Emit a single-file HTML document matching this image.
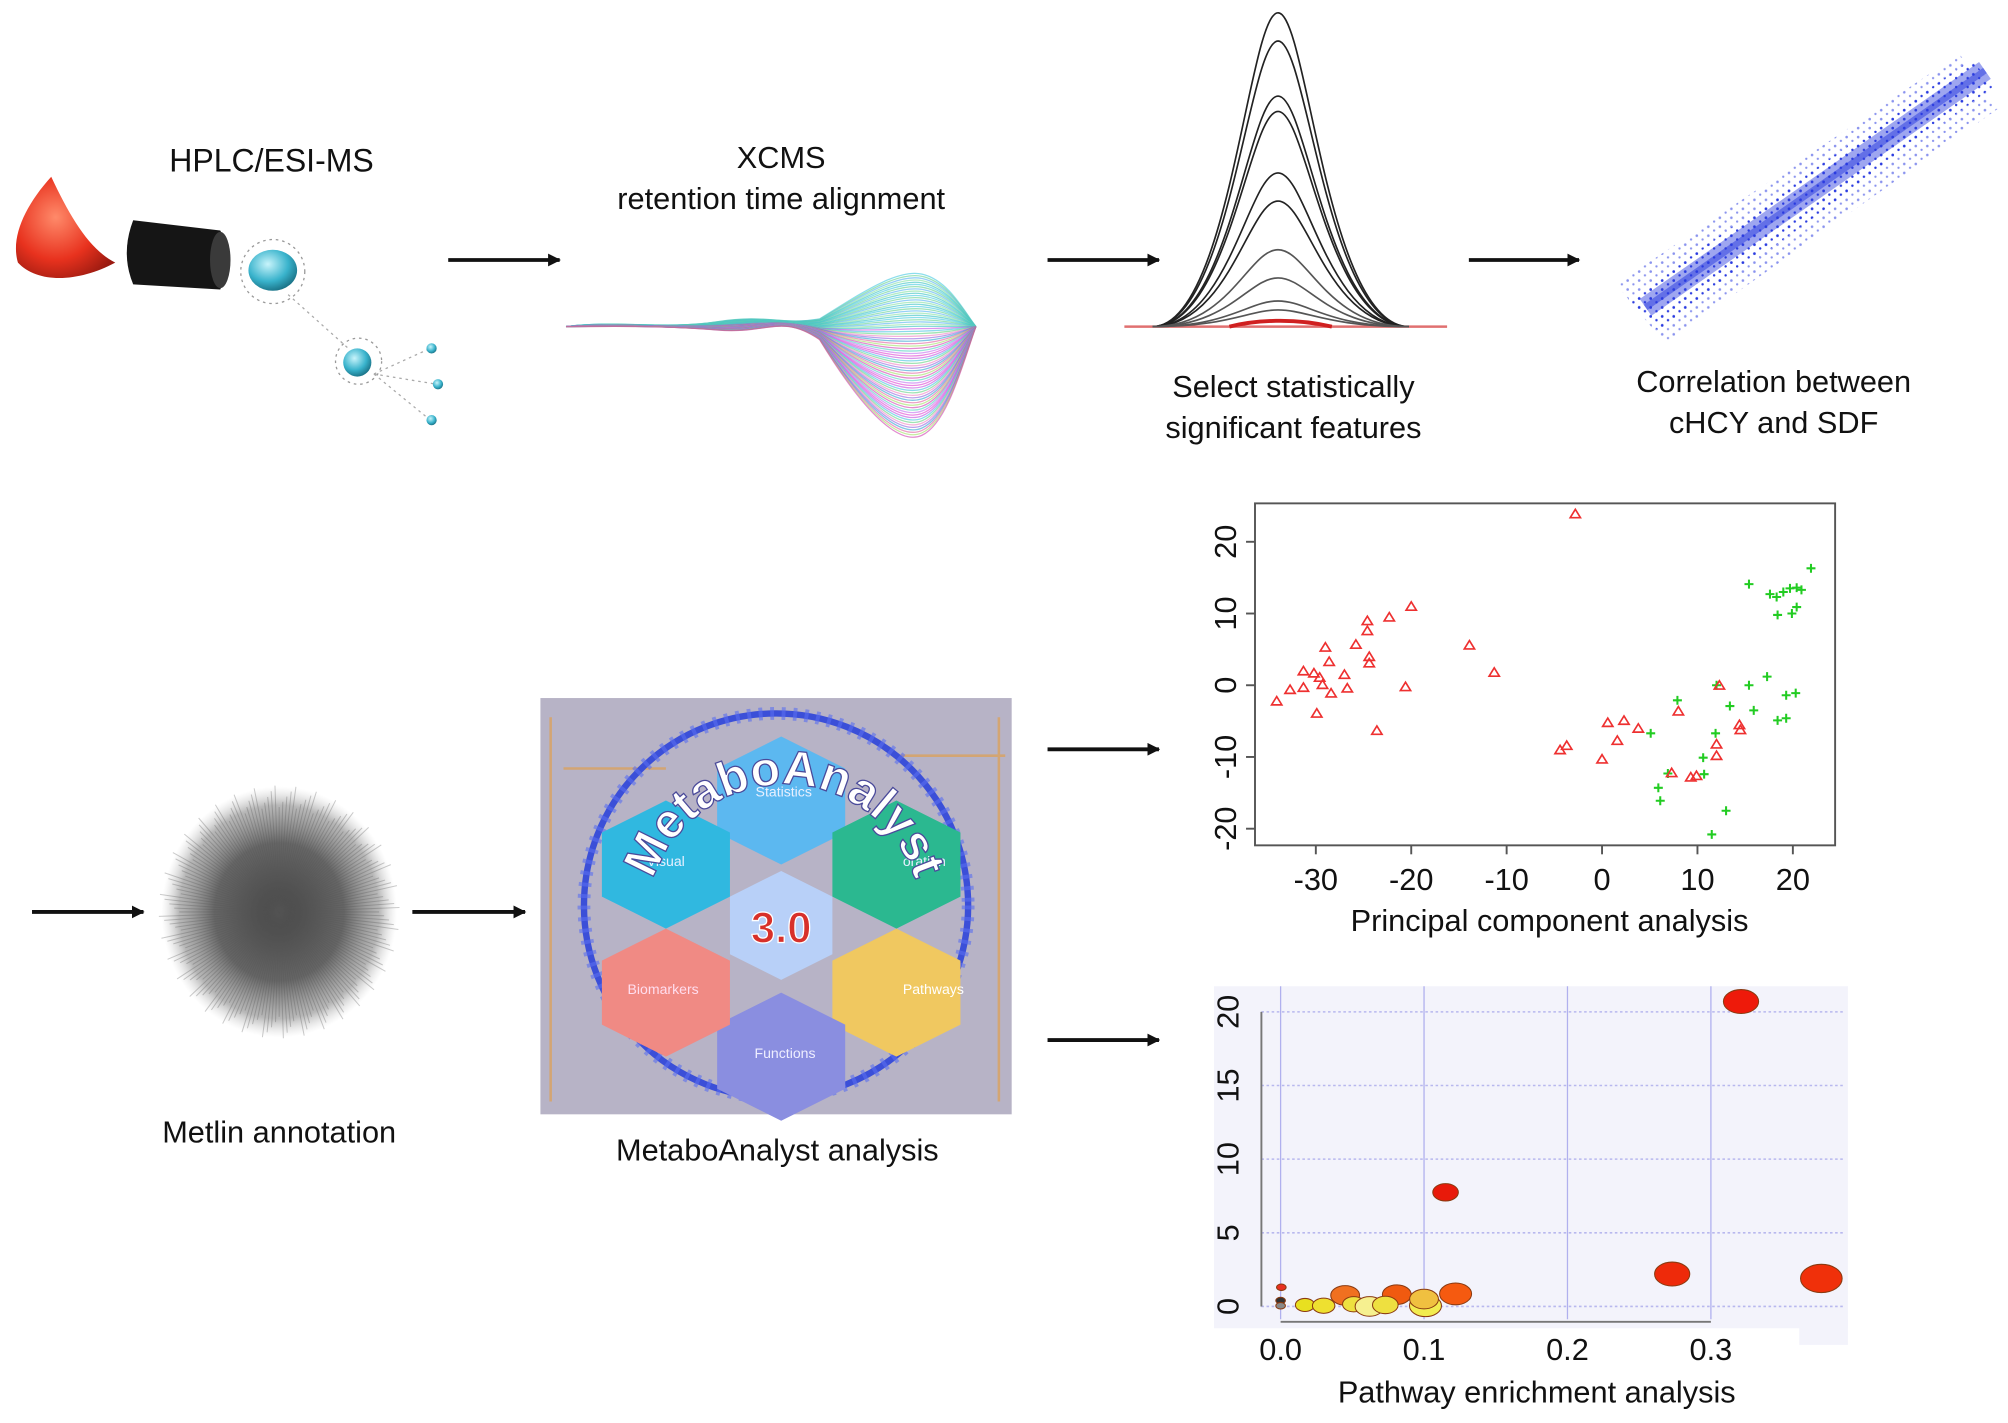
<!DOCTYPE html>
<html><head><meta charset="utf-8"><style>
html,body{margin:0;padding:0;background:#fff;}
svg{display:block;}
text{font-family:"Liberation Sans",Arial,sans-serif;fill:#111;}
</style></head><body>
<svg id="root" width="2008" height="1423" viewBox="0 0 1568 1111" preserveAspectRatio="none" xmlns="http://www.w3.org/2000/svg">
<defs>
<marker id="ah" markerWidth="10" markerHeight="10" refX="9" refY="5" orient="auto" markerUnits="userSpaceOnUse"><path d="M0,0 L10,5 L0,10 Z" fill="#111"/></marker>
<radialGradient id="cone" cx="0.4" cy="0.4" r="0.7"><stop offset="0" stop-color="#ff8a6a"/><stop offset="0.6" stop-color="#e8321e"/><stop offset="1" stop-color="#9a1a10"/></radialGradient>
<radialGradient id="cyan" cx="0.4" cy="0.35" r="0.7"><stop offset="0" stop-color="#c8f4fb"/><stop offset="0.6" stop-color="#39b3cc"/><stop offset="1" stop-color="#176c80"/></radialGradient>
<radialGradient id="fuzz" cx="0.5" cy="0.5" r="0.5"><stop offset="0" stop-color="#444"/><stop offset="0.55" stop-color="#666"/><stop offset="0.85" stop-color="#999" stop-opacity="0.7"/><stop offset="1" stop-color="#ccc" stop-opacity="0"/></radialGradient>
<pattern id="dots" width="9" height="7" patternUnits="userSpaceOnUse"><circle cx="2" cy="2" r="1" fill="#2a3be0"/><circle cx="6.5" cy="5" r="0.9" fill="#2a3be0"/></pattern>
</defs>

<!-- Top row -->
<text x="212" y="134" font-size="25" text-anchor="middle">HPLC/ESI-MS</text>
<g>
<path d="M40,138 C20,160 8,185 14,205 C30,222 62,220 90,205 C70,195 55,170 40,138 Z" fill="url(#cone)"/>
<path d="M104,172 L172,180 Q184,200 172,226 L104,222 Q94,198 104,172 Z" fill="#151515"/>
<ellipse cx="172" cy="203" rx="8" ry="22" fill="#3a3a3a"/>
<circle cx="213" cy="212" r="25" fill="none" stroke="#999" stroke-dasharray="2 3"/>
<ellipse cx="213" cy="211" rx="19" ry="16" fill="url(#cyan)"/>
<line x1="225" y1="230" x2="272" y2="272" stroke="#aaa" stroke-dasharray="2 3"/>
<circle cx="280" cy="282" r="18" fill="none" stroke="#999" stroke-dasharray="2 3"/>
<circle cx="279" cy="283" r="11" fill="url(#cyan)"/>
<line x1="292" y1="292" x2="336" y2="272" stroke="#aaa" stroke-dasharray="2 3"/>
<line x1="292" y1="292" x2="341" y2="300" stroke="#aaa" stroke-dasharray="2 3"/>
<line x1="292" y1="292" x2="336" y2="328" stroke="#aaa" stroke-dasharray="2 3"/>
<circle cx="337" cy="272" r="4" fill="url(#cyan)"/><circle cx="342" cy="300" r="4" fill="url(#cyan)"/><circle cx="337" cy="328" r="4" fill="url(#cyan)"/>
</g>
<line x1="350" y1="203" x2="437" y2="203" stroke="#111" stroke-width="3" marker-end="url(#ah)"/>

<text x="610" y="131" font-size="24" text-anchor="middle">XCMS</text>
<text x="610" y="163" font-size="24" text-anchor="middle">retention time alignment</text>
<g id="xcms"></g>
<line x1="818" y1="203" x2="905" y2="203" stroke="#111" stroke-width="3" marker-end="url(#ah)"/>

<g id="peaks">
<line x1="878" y1="255" x2="1130" y2="255" stroke="#e07070" stroke-width="2"/>
</g>
<text x="1010" y="310" font-size="24" text-anchor="middle">Select statistically</text>
<text x="1010" y="342" font-size="24" text-anchor="middle">significant features</text>
<line x1="1147" y1="203" x2="1233" y2="203" stroke="#111" stroke-width="3" marker-end="url(#ah)"/>

<g>
<polygon points="1262,222 1300,268 1560,85 1530,42" fill="url(#dots)" opacity="0.55"/>
<polygon points="1270,235 1295,258 1556,68 1540,46" fill="url(#dots)"/>
<line x1="1285" y1="240" x2="1550" y2="55" stroke="#2a3be0" stroke-width="16" opacity="0.45"/>
<line x1="1285" y1="240" x2="1550" y2="55" stroke="#2a3be0" stroke-width="5" opacity="0.5"/>
</g>
<text x="1385" y="306" font-size="24" text-anchor="middle">Correlation between</text>
<text x="1385" y="338" font-size="24" text-anchor="middle">cHCY and SDF</text>

<!-- Lower left -->
<line x1="25" y1="712" x2="112" y2="712" stroke="#111" stroke-width="3" marker-end="url(#ah)"/>
<g id="fuzzball">
<ellipse cx="218" cy="712" rx="92" ry="98" fill="url(#fuzz)"/>
</g>
<text x="218" y="892" font-size="24" text-anchor="middle">Metlin annotation</text>
<line x1="322" y1="712" x2="410" y2="712" stroke="#111" stroke-width="3" marker-end="url(#ah)"/>

<g>
<rect x="422" y="545" width="368" height="325" fill="#b7b3c6"/>
<path d="M430,560 L430,860 M780,560 L780,860 M440,600 L520,600 M700,590 L785,590" stroke="#e0a050" stroke-width="2" opacity="0.7"/>
<circle cx="606" cy="707" r="150" fill="none" stroke="#3b4fd8" stroke-width="5"/>
<circle cx="606" cy="707" r="150" fill="none" stroke="#5a6ef0" stroke-width="10" stroke-dasharray="3 6" opacity="0.6"/>
<g stroke="none">
<polygon points="610,575 660,600 660,650 610,675 560,650 560,600" fill="#5cb8f0"/>
<polygon points="700,625 750,650 750,700 700,725 650,700 650,650" fill="#2bb890"/>
<polygon points="700,725 750,750 750,800 700,825 650,800 650,750" fill="#f0c860"/>
<polygon points="610,775 660,800 660,850 610,875 560,850 560,800" fill="#8a8ee0"/>
<polygon points="520,725 570,750 570,800 520,825 470,800 470,750" fill="#f08a84"/>
<polygon points="520,625 570,650 570,700 520,725 470,700 470,650" fill="#30b8e0"/>
<polygon points="610,680 650,700 650,745 610,765 570,745 570,700" fill="#b8d0f8"/>
</g>
<text x="612" y="622" font-size="11" text-anchor="middle" style="fill:#e8f0ff">Statistics</text>
<text x="505" y="676" font-size="11" style="fill:#e8f0ff">Visual</text>
<text x="705" y="676" font-size="11" style="fill:#e8f0ff">oration</text>
<text x="490" y="776" font-size="11" style="fill:#fde">Biomarkers</text>
<text x="705" y="776" font-size="11" style="fill:#fff">Pathways</text>
<text x="613" y="826" font-size="11" text-anchor="middle" style="fill:#eef">Functions</text>
<path id="arcp" d="M505,720 A105,105 0 0 1 720,720" fill="none"/>
<text font-size="38" font-weight="bold" style="fill:#fff;stroke:#4a4a9a;stroke-width:1"><textPath href="#arcp" startOffset="50%" text-anchor="middle">MetaboAnalyst</textPath></text>
<text x="610" y="736" font-size="34" font-weight="bold" text-anchor="middle" style="fill:#d8302a;stroke:#fff;stroke-width:1">3.0</text>
</g>
<text x="607" y="906" font-size="24" text-anchor="middle">MetaboAnalyst analysis</text>
<line x1="818" y1="585" x2="905" y2="585" stroke="#111" stroke-width="3" marker-end="url(#ah)"/>
<line x1="818" y1="812" x2="905" y2="812" stroke="#111" stroke-width="3" marker-end="url(#ah)"/>

<!-- PCA chart -->
<g id="pca">
<rect x="980" y="393" width="453" height="267" fill="#fff" stroke="#555" stroke-width="1.5"/>
</g>
<text x="1210" y="727" font-size="24" text-anchor="middle">Principal component analysis</text>

<!-- Pathway chart -->
<g id="path">
<rect x="948" y="770" width="495" height="267" fill="#f3f3fb"/>
<rect x="1405" y="1030" width="38" height="20" fill="#f3f3fb"/>
</g>
<text x="1200" y="1095" font-size="24" text-anchor="middle">Pathway enrichment analysis</text>
</svg>

<script>
// ===== PCA data =====
const pcaRedX = [-2.8,-34.1,-32.7,-31.3,-31.3,-30.2,-29.6,-29.3,-29.9,-29,-28.6,-28.4,-27,-26.7,-25.8,-24.6,-24.6,-24.4,-24.4,-23.6,-22.3,-20,-20.6,-13.9,-11.3,-4.4,-3.7,0,0.6,1.6,2.3,3.8,8,7.3,9.3,9.9,12,12,12.3,14.4,14.5];
const pcaRedY = [23.9,-2.2,-0.6,-0.3,2,1.7,1.1,0.1,-3.9,5.3,3.3,-1.1,1.5,-0.4,5.7,9,7.6,4,3.1,-6.3,9.5,11,-0.2,5.6,1.8,-9,-8.4,-10.3,-5.2,-7.7,-4.9,-6,-3.6,-12.2,-12.8,-12.6,-8.2,-9.8,0,-5.5,-6.2];
const pcaGreenX = [15.4,17.3,15.4,17.6,18.3,19,19.7,20.4,20.9,21.9,18.4,19.9,20.4,19.3,20.3,18.4,19.3,15.9,13.4,12,7.9,11.9,10.6,10.7,6.9,5.9,6.1,13,11.5,5.1];
const pcaGreenY = [0,1.2,14.1,12.7,12.3,13,13.5,13.6,13.3,16.3,9.8,10,10.9,-1.4,-1.1,-4.9,-4.6,-3.5,-2.9,0,-2.1,-6.7,-10.1,-12.4,-12.3,-14.3,-16.1,-17.5,-20.8,-6.7];
const pcaXTicks = [-30,-20,-10,0,10,20];
const pcaYTicks = [-20,-10,0,10,20];
// ===== Pathway data =====
const pwX = [0.321,0.115,0.273,0.377,0.122,0.081,0.045,0.0005,0,0,0.017,0.03,0.051,0.062,0.073,0.101,0.1];
const pwY = [20.7,7.75,2.2,1.9,0.85,0.8,0.75,1.3,0.4,0.05,0.1,0.05,0.15,0,0.1,0.05,0.5];
const pwSize = [11,8,11,13,10,9,9,3,3,3,6,7,7,9,8,10,9];
const pwColor = ["#ee1a0a","#e81a0a","#ee2a0a","#f0300a","#f55a10","#f05a10","#f07020","#e83020","#333","#888","#e8e020","#eee030","#eee040","#f6f090","#eee040","#f2ec50","#f0c040"];
const pwXTicks = [0.0,0.1,0.2,0.3];
const pwYTicks = [0,5,10,15,20];

const NS="http://www.w3.org/2000/svg";
function mk(tag,attrs,parent){const e=document.createElementNS(NS,tag);for(const k in attrs)e.setAttribute(k,attrs[k]);parent.appendChild(e);return e;}

// PCA axes
const pxX = v => 1251 + v*7.45;
const pxY = v => 535 - v*5.6;
const pca=document.getElementById('pca');
pcaXTicks.forEach(t=>{
  const l=mk('line',{x1:pxX(t),x2:pxX(t),y1:660,y2:667,stroke:'#555','stroke-width':1.5},pca);
  
  
  const tx=mk('text',{x:pxX(t),y:695,'font-size':24,'text-anchor':'middle'},pca);tx.textContent=t;
  
  
});
pcaYTicks.forEach(t=>{
  const l=mk('line',{x1:973,x2:980,y1:pxY(t),y2:pxY(t),stroke:'#555','stroke-width':1.5},pca);
  
  
  const tx=mk('text',{x:0,y:0,'font-size':24,'text-anchor':'middle',transform:`translate(965,${pxY(t)}) rotate(-90)`},pca);tx.textContent=t;
  
  
});
pcaGreenX.forEach((v,i)=>{
  const x=pxX(v),y=pxY(pcaGreenY[i]);
  const p=mk('path',{d:`M${x-3.5},${y}H${x+3.5}M${x},${y-3.5}V${y+3.5}`,stroke:'#22cc22','stroke-width':1.6,fill:'none'},pca);
  
  
});
pcaRedX.forEach((v,i)=>{
  const x=pxX(v),y=pxY(pcaRedY[i]);
  const p=mk('path',{d:`M${x},${y-3.5}L${x+4},${y+3}L${x-4},${y+3}Z`,stroke:'#ee3030','stroke-width':1.3,fill:'none'},pca);
  
  
});

// Pathway axes
const qX = v => 1000 + v*1120;
const qY = v => 1020 - v*11.5;
const pw=document.getElementById('path');
pwXTicks.forEach(t=>{
  const g=mk('line',{x1:qX(t),x2:qX(t),y1:770,y2:1030,stroke:'#b0b0ee','stroke-width':1},pw);
  
  
  const tx=mk('text',{x:qX(t),y:1062,'font-size':24,'text-anchor':'middle'},pw);tx.textContent=t.toFixed(1);
  
  
});
pwYTicks.forEach(t=>{
  const g=mk('line',{x1:985,x2:1440,y1:qY(t),y2:qY(t),stroke:'#b8b8ee','stroke-width':1.2,'stroke-dasharray':'2 2'},pw);
  
  
  const tx=mk('text',{x:0,y:0,'font-size':24,'text-anchor':'middle',transform:`translate(967,${qY(t)}) rotate(-90)`},pw);tx.textContent=t;
  
  
});
mk('line',{x1:985,x2:985,y1:qY(20),y2:qY(0),stroke:'#777','stroke-width':1.5},pw);
mk('line',{x1:qX(0),x2:qX(0.3),y1:1032,y2:1032,stroke:'#777','stroke-width':1.5},pw);
pwX.forEach((v,i)=>{
  const e=mk('ellipse',{cx:qX(v),cy:qY(pwY[i]),rx:pwSize[i]*1.25,ry:pwSize[i]*0.85,fill:pwColor[i],stroke:'#8a3a10','stroke-width':0.8},pw);
  
  
});

// XCMS decorative traces: band from x=442 to 762 centered at 255
const xc=document.getElementById('xcms');
const cols=['#e040d0','#c050e0','#40c0e0','#60d080','#f080c0','#9060e0','#30a0d0','#e060a0','#a0e060','#d040b0','#50d0c0','#c070f0'];
for(let k=0;k<70;k++){
  const a=k/69; // 0..1
  const up = a<0.35; // upper traces (cyan/green)
  const c = up ? ['#40c8e0','#60d090','#50b0f0','#80e0a0','#30c0c0'][k%5] : cols[k%cols.length];
  const dev = up ? -(0.35-a)*130 : (a-0.35)*145; // right-side deviation
  const mid = up ? -(0.35-a)*20 : (a-0.35)*14;
  const d=`M442,255 C480,${252+mid*0.3} 520,${256-mid*0.2} 560,${254+mid*0.4} S 610,${250-mid*0.6} 640,${256+mid} C670,${258+dev*0.6} 700,${255+dev} 720,${255+dev*0.9} S 752,${255+dev*0.3} 762,255`;
  mk('path',{d:d,fill:'none',stroke:c,'stroke-width':1,opacity:0.6},xc);
}

// Peaks decorative
const pk=document.getElementById('peaks');
[245,225,180,170,120,100,60,40,20,15].forEach((h,i)=>{
  const top=255-h+ (i%2)*2;
  mk('path',{d:`M900,255 C960,255 975,${top} 998,${top} C1021,${top} 1036,255 1100,255`,fill:'none',stroke:i<6?'#222':'#555','stroke-width':1.3},pk);
});
mk('path',{d:'M960,255 C980,250 1010,248 1040,255',fill:'none',stroke:'#d02020','stroke-width':3},pk);

// Fuzzball lines
const fb=document.getElementById('fuzzball');
for(let k=0;k<180;k++){
  const ang=k*2*Math.PI/180, r=78+(k%5)*4;
  mk('line',{x1:218,y1:712,x2:218+Math.cos(ang)*r,y2:712+Math.sin(ang)*r*1.05,stroke:'#555','stroke-width':0.8,opacity:0.3},fb);
}
</script>
</body></html>
